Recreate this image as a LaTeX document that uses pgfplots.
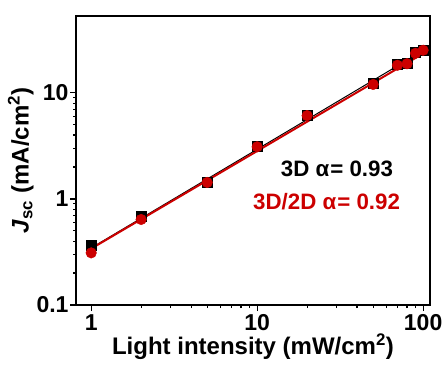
\documentclass[border=0pt]{standalone}
\usepackage{fontspec}
\setmainfont{Liberation Sans}
\usepackage{pgfplots}
\pgfplotsset{compat=1.18}
\definecolor{fitred}{RGB}{204,0,0}

\begin{document}
\begin{tikzpicture}
\begin{axis}[
  scale only axis,
  width=354pt, height=289pt,
  xmode=log, ymode=log,
  xmin=0.81, xmax=110,
  ymin=0.1, ymax=53,
  xtick={1,10,100}, xticklabels={1,10,100},
  ytick={0.1,1,10}, yticklabels={0.1,1,10},
  tick align=outside, tick pos=left,
  major tick length=6pt, minor tick length=3pt,
  every tick/.style={black, line width=1.2pt},
  axis line style={line width=2.2pt},
  /pgf/number format/assume math mode=true,
  ticklabel style={font=\bfseries\fontsize{23}{23}\selectfont},
  xticklabel style={yshift=0pt},
  yticklabel style={xshift=2pt},
  xlabel={\bfseries\fontsize{24}{24}\selectfont Light intensity (mW/cm\textsuperscript{2})},
  ylabel={\bfseries\fontsize{24}{24}\selectfont \textit{J}\textsubscript{sc} (mA/cm\textsuperscript{2})},
  xlabel style={yshift=4pt},
  ylabel style={yshift=-4pt},
  clip=false,
]
% 3D device
\addplot[only marks, mark=square*, mark size=5pt, black] coordinates {
  (1,0.37) (2,0.68) (5,1.43) (10,3.15) (20,6.2) (50,12.2)
  (70,18.6) (80,19.0) (90,24.2) (100,25.0)
};
% 3D/2D device
\addplot[only marks, mark=*, mark size=5.3pt, fitred] coordinates {
  (1,0.31) (2,0.64) (5,1.43) (10,3.1) (20,6.1) (50,12.0)
  (70,18.2) (80,18.8) (90,23.6) (100,25.2)
};
% power-law fits
\addplot[black, line width=1pt] coordinates {(1,0.345) (100,25.0)};
\addplot[fitred, line width=2pt] coordinates {(1,0.34) (100,23.5)};

\node[anchor=base east, inner sep=0pt, font=\bfseries\fontsize{22.3}{22.3}\selectfont, black]
  at (axis cs:66,1.61) {3D α\hspace{1pt}= 0.93};
\node[anchor=base east, inner sep=0pt, font=\bfseries\fontsize{22.3}{22.3}\selectfont, fitred]
  at (axis cs:72.7,0.787) {3D/2D α\hspace{1pt}= 0.92};
\end{axis}
\pgfresetboundingbox
\path (-76pt,-60pt) rectangle (369pt,305pt);
\end{tikzpicture}
\end{document}
